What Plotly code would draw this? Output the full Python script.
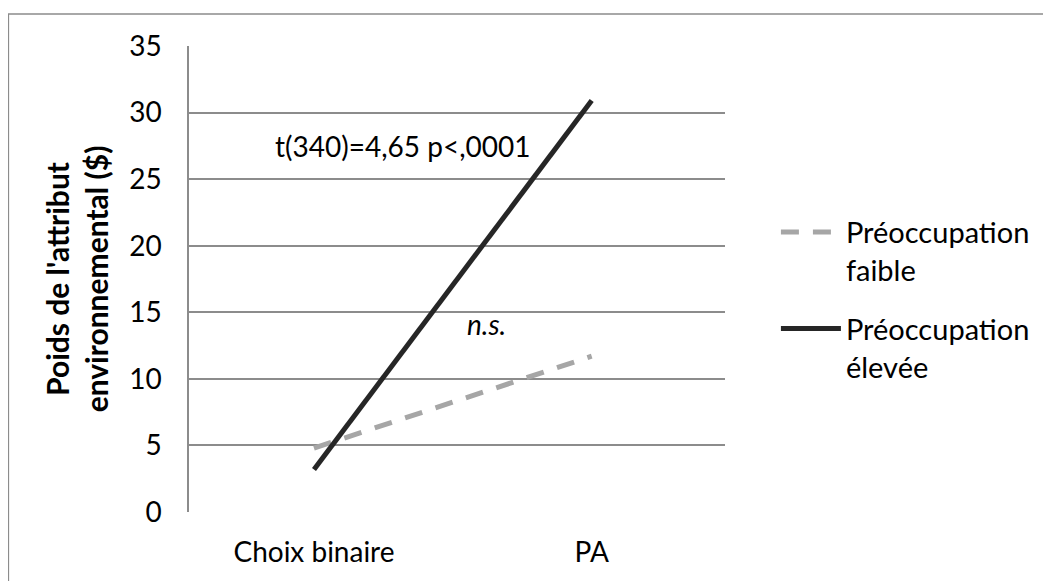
import plotly.graph_objects as go

# data
conditions = ["Choix binaire", "PA"]
faible = [4.8, 11.7]
elevee = [3.2, 30.9]
y_ticks = [0, 5, 10, 15, 20, 25, 30, 35]

font = "Lato, 'Open Sans', sans-serif"
x_pos = [0, 1]

fig = go.Figure()
fig.add_trace(go.Scatter(
    x=x_pos, y=faible, mode="lines",
    name="Préoccupation<br>faible", legendgroup="f",
    line=dict(color="#a6a6a6", width=5, dash="18px,14px"),
))
fig.add_trace(go.Scatter(
    x=x_pos, y=elevee, mode="lines",
    name="Préoccupation<br>élevée", legendgroup="e",
    line=dict(color="#262626", width=5),
))

fig.add_annotation(x=0.32, y=27.5, text="t(340)=4,65 p<,0001", showarrow=False,
                   font=dict(size=28, color="#000000", family=font))
fig.add_annotation(x=0.62, y=14.1, text="<i>n.s.</i>", showarrow=False,
                   font=dict(size=28, color="#000000", family=font))

# outer chart border (runs off the right and bottom of the picture)
fig.add_shape(type="rect", xref="paper", yref="paper",
              x0=-0.337, x1=1.65, y0=-0.3, y1=1.0686,
              line=dict(color="#8c8c8c", width=1.5), layer="below")

# page body adds an 8px offset, margins compensate for it
fig.update_layout(
    width=1051, height=581,
    margin=dict(l=181, r=334, t=38, b=77),
    plot_bgcolor="white", paper_bgcolor="white",
    font=dict(family=font, size=28, color="#000000"),
    showlegend=True,
    legend=dict(x=1.095, y=0.655, xanchor="left", yanchor="top",
                font=dict(size=29), itemwidth=60, tracegroupgap=18,
                valign="top", bgcolor="rgba(0,0,0,0)"),
    xaxis=dict(
        range=[-0.45, 1.48], tickvals=x_pos, ticktext=conditions,
        showgrid=False, zeroline=False, showline=False, ticks="",
        ticklabelstandoff=21, automargin=False,
    ),
    yaxis=dict(
        range=[0, 35], tickvals=y_ticks, showgrid=True,
        gridcolor="#8c8c8c", gridwidth=1.5, zeroline=False,
        showline=True, linecolor="#8c8c8c", linewidth=1.5, ticks="",
        ticklabelstandoff=20, automargin=False,
        title=dict(text="<b>Poids de l'attribut<br>environnemental ($)</b>",
                   standoff=12, font=dict(size=30)),
    ),
)

fig.write_html("out.html")
